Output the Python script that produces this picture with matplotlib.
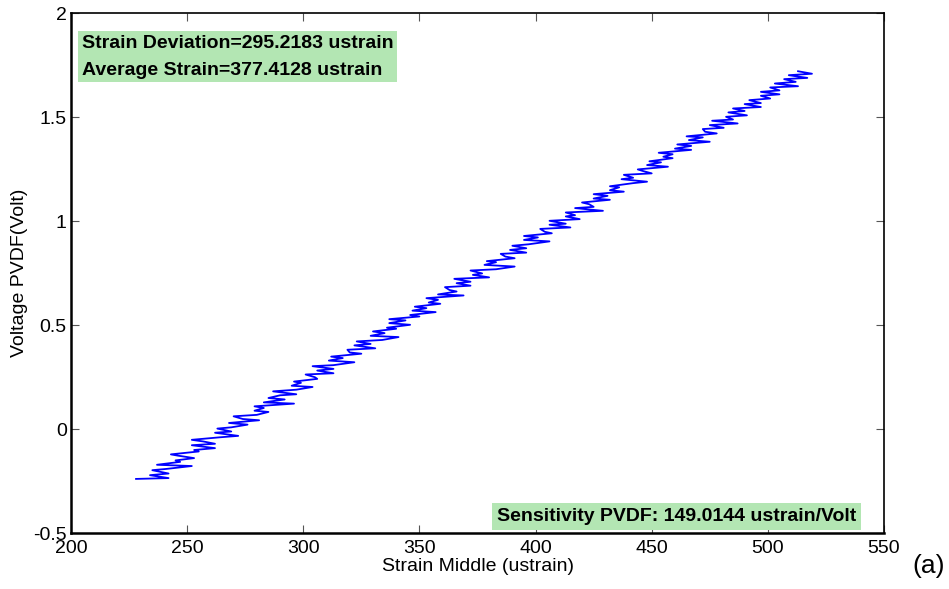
import matplotlib
matplotlib.use("Agg")
import matplotlib.pyplot as plt

plt.rcParams['font.family'] = ['Liberation Sans', 'DejaVu Sans']

strain = [228, 242, 234, 242, 235, 241, 252, 237, 247, 245,
          253, 246, 243, 255, 253, 262, 252, 262, 257, 252,
          264, 272, 262, 269, 263, 269, 276, 268, 281, 274,
          270, 280, 285, 279, 283, 279, 296, 283, 292, 285,
          290, 297, 287, 297, 304, 295, 299, 296, 306, 305,
          301, 313, 306, 313, 304, 313, 322, 311, 317, 312,
          325, 320, 319, 331, 322, 329, 323, 334, 341, 329,
          335, 330, 340, 336, 346, 337, 344, 337, 350, 346,
          357, 347, 353, 348, 359, 354, 358, 353, 369, 358,
          366, 363, 361, 372, 366, 372, 365, 380, 373, 377,
          372, 383, 391, 378, 383, 379, 391, 387, 385, 396,
          389, 396, 390, 397, 406, 395, 401, 395, 407, 404,
          402, 415, 406, 413, 406, 419, 413, 417, 413, 429,
          417, 425, 423, 420, 432, 425, 431, 425, 438, 432,
          436, 432, 442, 448, 437, 442, 438, 450, 446, 444,
          457, 448, 454, 449, 459, 455, 459, 453, 467, 460,
          467, 461, 475, 466, 472, 465, 478, 473, 472, 481,
          475, 487, 476, 485, 482, 491, 483, 490, 485, 497,
          490, 497, 492, 501, 497, 505, 497, 505, 501, 513,
          503, 512, 507, 517, 509, 519, 513]
voltage = [-0.240, -0.236, -0.222, -0.214, -0.198, -0.192, -0.178, -0.172, -0.158, -0.151,
           -0.140, -0.128, -0.122, -0.108, -0.101, -0.092, -0.078, -0.071, -0.060, -0.052,
           -0.040, -0.033, -0.018, -0.012, 0.002, 0.008, 0.021, 0.029, 0.042, 0.048,
           0.061, 0.068, 0.082, 0.088, 0.101, 0.109, 0.122, 0.128, 0.142, 0.149,
           0.162, 0.167, 0.181, 0.189, 0.202, 0.208, 0.222, 0.228, 0.241, 0.249,
           0.262, 0.268, 0.281, 0.289, 0.302, 0.307, 0.321, 0.329, 0.341, 0.348,
           0.362, 0.368, 0.381, 0.388, 0.402, 0.409, 0.421, 0.428, 0.442, 0.448,
           0.461, 0.469, 0.482, 0.487, 0.501, 0.509, 0.522, 0.528, 0.541, 0.548,
           0.562, 0.569, 0.581, 0.588, 0.602, 0.608, 0.621, 0.629, 0.642, 0.647,
           0.661, 0.668, 0.682, 0.689, 0.701, 0.708, 0.722, 0.729, 0.741, 0.748,
           0.762, 0.768, 0.781, 0.789, 0.802, 0.807, 0.821, 0.829, 0.842, 0.848,
           0.861, 0.869, 0.881, 0.888, 0.902, 0.909, 0.921, 0.928, 0.941, 0.948,
           0.962, 0.969, 0.982, 0.987, 1.001, 1.009, 1.022, 1.028, 1.041, 1.049,
           1.062, 1.068, 1.081, 1.089, 1.102, 1.108, 1.121, 1.129, 1.141, 1.148,
           1.162, 1.167, 1.182, 1.189, 1.201, 1.208, 1.222, 1.229, 1.241, 1.248,
           1.261, 1.269, 1.282, 1.287, 1.302, 1.309, 1.321, 1.328, 1.342, 1.348,
           1.361, 1.368, 1.381, 1.389, 1.402, 1.407, 1.421, 1.429, 1.442, 1.448,
           1.461, 1.469, 1.482, 1.488, 1.501, 1.508, 1.522, 1.529, 1.541, 1.548,
           1.562, 1.567, 1.581, 1.589, 1.602, 1.609, 1.621, 1.628, 1.642, 1.648,
           1.661, 1.669, 1.682, 1.688, 1.701, 1.708, 1.720]

xticks = [200, 250, 300, 350, 400, 450, 500, 550]
yticks = [-0.5, 0, 0.5, 1, 1.5, 2]
ytick_labels = ['-0.5', '0', '0.5', '1', '1.5', '2']
info_lines = ["Strain Deviation=295.2183 ustrain", "Average Strain=377.4128 ustrain"]
sens_text = "Sensitivity PVDF: 149.0144 ustrain/Volt"

fig = plt.figure(figsize=(9.49, 5.89), dpi=100)
ax = fig.add_axes([71/949, 1-533/589, 813/949, 520/589])
ax.plot(strain, voltage, color='#0000ff', lw=1.3)
ax.set_xlim(200, 550)
ax.set_ylim(-0.5, 2)
ax.set_xticks(xticks)
ax.set_xticklabels([str(t) for t in xticks])
ax.set_yticks(yticks)
ax.set_yticklabels(ytick_labels)
ax.tick_params(direction='in', length=6, width=0.8, labelsize=14, top=True, right=True,
               color='#555555')
ax.tick_params(axis='x', pad=5)
ax.tick_params(axis='y', pad=3)
for s in ax.spines.values():
    s.set_linewidth(1.2)
    s.set_color('black')
ax.spines['left'].set_linewidth(1.8)
ax.spines['bottom'].set_linewidth(1.8)
ax.set_xlabel("Strain Middle (ustrain)", fontsize=14, labelpad=1)
ax.set_ylabel("Voltage PVDF(Volt)", fontsize=14, labelpad=4)

green = '#b3e6b3'
ax.text(0.0135, 0.958, "\n".join(info_lines), transform=ax.transAxes, ha='left', va='top',
        fontsize=14, fontweight='bold', linespacing=1.75,
        bbox=dict(boxstyle='square,pad=0.2', fc=green, ec='none'))
ax.text(0.966, 0.016, sens_text, transform=ax.transAxes, ha='right', va='bottom',
        fontsize=14, fontweight='bold',
        bbox=dict(boxstyle='square,pad=0.25', fc=green, ec='none'))

fig.text(0.996, 0.018, "(a)", ha='right', va='bottom', fontsize=19)

fig.savefig("out.png", dpi=100)
